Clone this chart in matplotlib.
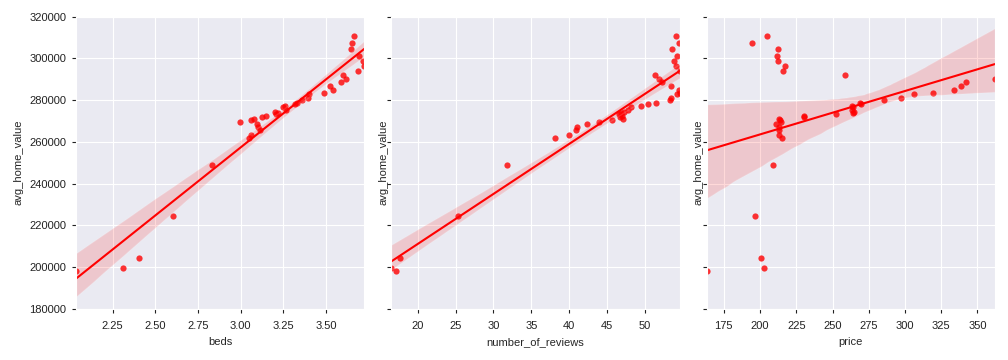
import pandas as pd
import matplotlib
matplotlib.use("Agg")
import matplotlib.pyplot as plt
import seaborn as sns

# one row per listing group: avg_home_value with beds, number_of_reviews, price
avg_home_value = [198000, 199700, 204300, 224400, 248800, 261800, 263200, 265600,
                  267000, 268500, 269400, 270400, 270900, 271800, 272300, 273400,
                  273800, 274200, 275300, 276600, 277400, 278000, 278800, 280100,
                  280900, 282700, 283300, 284700, 286600, 288700, 290000, 291900,
                  293800, 296400, 298800, 301200, 304400, 307200, 310600]
beds = [2.035, 2.311, 2.403, 2.605, 2.832, 3.05, 3.06, 3.112,
        3.10, 3.098, 2.996, 3.06, 3.08, 3.126, 3.147, 3.206,
        3.222, 3.20, 3.267, 3.249, 3.26, 3.32, 3.33, 3.359,
        3.398, 3.40, 3.492, 3.543, 3.525, 3.586, 3.617, 3.598,
        3.686, 3.725, 3.715, 3.692, 3.645, 3.651, 3.666]
number_of_reviews = [17.12, 16.5, 17.65, 25.3, 31.8, 38.1, 39.96, 40.9,
                     41.0, 42.3, 43.9, 45.66, 47.17, 46.7, 47.0, 46.6,
                     46.86, 47.2, 47.8, 48.2, 49.5, 50.4, 51.5, 53.36,
                     53.5, 54.3, 54.6, 54.5, 53.5, 52.3, 51.9, 51.3,
                     54.6, 54.15, 53.85, 54.3, 53.6, 54.5, 54.07]
price = [163.2, 202.9, 200.6, 196.4, 208.9, 215.1, 212.8, 213.3,
         213.0, 210.7, 214.2, 213.5, 212.8, 230.3, 230.1, 252.3,
         264.0, 264.7, 263.3, 264.0, 263.3, 269.8, 268.9, 285.7,
         297.2, 306.4, 319.6, 334.1, 338.3, 342.4, 362.0, 258.7,
         215.8, 217.2, 212.4, 211.7, 212.4, 194.8, 204.7]

df = pd.DataFrame({"beds": beds, "number_of_reviews": number_of_reviews,
                   "price": price, "avg_home_value": avg_home_value})

sns.set_style("darkgrid", {"xtick.bottom": True, "ytick.left": True,
                           "xtick.color": "#222222", "ytick.color": "#222222"})
plt.rcParams["font.family"] = ["Liberation Sans Narrow", "Liberation Sans", "DejaVu Sans"]
plt.rcParams["font.size"] = 8
plt.rcParams["xtick.major.size"] = 3
plt.rcParams["ytick.major.size"] = 3
plt.rcParams["xtick.major.pad"] = 6
plt.rcParams["ytick.major.pad"] = 4

fig, axes = plt.subplots(1, 3, figsize=(10.08, 3.6), dpi=100, sharey=True)
fig.subplots_adjust(left=0.0754, right=0.987, bottom=0.142, top=0.954, wspace=0.094)

for ax, col in zip(axes, ["beds", "number_of_reviews", "price"]):
    sns.regplot(data=df, x=col, y="avg_home_value", ax=ax, color="red",
                scatter_kws={"s": 20, "alpha": 0.8, "linewidths": 0},
                line_kws={"linewidth": 1.5}, seed=3)
    ax.set_xlim(df[col].min(), df[col].max())
    ax.set_ylim(180000, 320000)
    ax.set_xlabel(col, fontsize=8)
    first = ax is axes[0]
    ax.set_ylabel("avg_home_value", fontsize=8, labelpad=4 if first else -1)
    ax.yaxis.set_tick_params(labelleft=first)
    ax.tick_params(labelsize=8)

fig.savefig("out.png", dpi=100)
plt.close(fig)
print("Saved: out.png")
